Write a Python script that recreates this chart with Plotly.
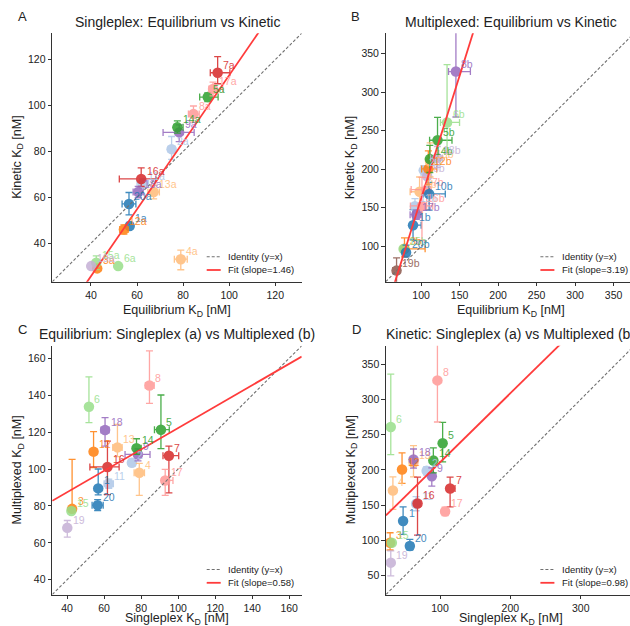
import numpy as np
import plotly.graph_objects as go

W, H = 630, 626
NaN = float("nan")

# ---------------- data ----------------
sample_ids = list(range(1, 21))

eq_single    = [56.8, 75.0, 42.7, 79.0, 90.7, 51.8, 95.0, 84.5, 78.3, NaN, 62.5, 54.3, 67.2, 77.5, 42.3, 61.8, 93.0, 60.5, 40.1, 56.5]
eq_single_lo = [1.2, 1.5, 0.8, 2.8, 3.5, 0.5, 3.2, 2.2, 7.0, NaN, 2.5, 1.8, 2.5, 1.5, 0.8, 9.5, 1.8, 2.2, 0.8, 3.0]
eq_single_hi = [1.2, 1.5, 0.8, 2.8, 4.5, 0.5, 5.3, 2.5, 6.5, NaN, 2.5, 1.8, 2.5, 2.5, 0.8, 6.3, 4.2, 2.2, 0.8, 3.0]

kin_single    = [47.5, 81.0, 29.0, 33.0, 103.7, 30.0, 114.3, 96.3, 88.3, NaN, 66.0, 46.0, 62.3, 90.5, 31.5, 68.0, 107.2, 62.3, 30.0, 57.1]
kin_single_lo = [1.5, 4.5, 1.0, 4.6, 2.0, 0.5, 4.8, 3.5, 4.0, NaN, 2.0, 2.0, 3.0, 2.5, 3.0, 3.3, 3.0, 2.5, 1.0, 4.8]
kin_single_hi = [1.5, 5.5, 1.0, 4.0, 1.8, 0.5, 7.0, 3.5, 3.3, NaN, 2.0, 2.0, 3.0, 2.8, 3.0, 4.8, 3.0, 2.5, 1.0, 5.0]

eq_multi    = [89.5, 103.4, 78.4, 98.0, 121.3, 133.7, 107.2, 145.2, 107.9, 110.4, 92.0, 109.4, 111.7, 111.3, 77.2, 101.1, 93.8, 121.1, 68.1, 80.4]
eq_multi_lo = [3.5, 2.0, 1.5, 12.3, 10.3, 8.6, 20.1, 9.6, 3.5, 7.4, 2.5, 8.7, 5.0, 3.3, 1.5, 15.0, 8.1, 8.7, 5.0, 3.0]
eq_multi_hi = [10.5, 2.0, 26.8, 5.0, 18.8, 16.2, 5.2, 18.8, 3.0, 21.0, 2.5, 10.8, 12.5, 5.1, 1.5, 14.0, 6.0, 6.7, 4.0, 3.0]

kin_multi    = [127.4, 198.6, 96.7, 170.8, 237.7, 260.8, 173.6, 326.9, 191.0, 168.0, 152.0, 200.5, 210.0, 213.2, 96.5, 152.4, 141.0, 214.6, 68.4, 92.0]
kin_multi_lo = [19.0, 6.0, 10.4, 26.9, 26.4, 39.1, 26.0, 59.0, 14.1, 21.0, 10.0, 19.8, 20.0, 17.4, 3.0, 44.9, 6.0, 12.0, 18.9, 5.7]
kin_multi_hi = [20.2, 6.0, 14.1, 19.2, 29.8, 75.0, 16.0, 61.0, 11.8, 15.0, 10.0, 23.5, 24.4, 17.9, 3.0, 37.2, 6.0, 15.0, 16.6, 9.4]

fit_slopes     = [1.46, 3.19, 0.58, 0.98]
fit_intercepts = [-32.8, -157.0, 64.2, 112.7]

# ---------------- styles ----------------
TAB = dict(blue="#1f77b4", lblue="#aec7e8", orange="#ff7f0e", lorange="#ffbb78",
           green="#2ca02c", lgreen="#98df8a", red="#d62728", lred="#ff9896",
           purple="#9467bd", lpurple="#c5b0d5", brown="#8c564b")
colors_acd = ["blue", "lblue", "orange", "lorange", "green", "lgreen", "red", "lred", "purple", "lpurple",
              "lblue", "orange", "lorange", "green", "lgreen", "red", "lred", "purple", "lpurple", "blue"]
colors_b = ["blue", "lblue", "orange", "lorange", "green", "lgreen", "lred", "purple", "lpurple", "blue",
            "lblue", "orange", "lorange", "green", "lgreen", "lred", "purple", "lpurple", "brown", "blue"]

FONT = "Liberation Sans, Arial, Helvetica, sans-serif"
INK = "#222222"

KD = "K<sub>D</sub> [nM]"
panels = [
    dict(letter="A", title="Singleplex: Equilibrium vs Kinetic",
         x=eq_single, xlo=eq_single_lo, xhi=eq_single_hi,
         y=kin_single, ylo=kin_single_lo, yhi=kin_single_hi,
         suffix="a", colors=colors_acd,
         xtitle="Equilibrium " + KD, ytitle="Kinetic " + KD,
         box=(52.3, 33.3, 301.7, 281.7), right=301.7, xtitle_off=29,
         xrange=[23.2, 131.5], yrange=[23.2, 131.5],
         xticks=[40, 60, 80, 100, 120], yticks=[40, 60, 80, 100, 120]),
    dict(letter="B", title="Multiplexed: Equilibrium vs Kinetic",
         x=eq_multi, xlo=eq_multi_lo, xhi=eq_multi_hi,
         y=kin_multi, ylo=kin_multi_lo, yhi=kin_multi_hi,
         suffix="b", colors=colors_b,
         xtitle="Equilibrium " + KD, ytitle="Kinetic " + KD,
         box=(385.7, 33.3, 630.0, 281.7), right=635.4, xtitle_off=29,
         xrange=[54.0, 371.3], yrange=[54.0, 376.6],
         xticks=[100, 150, 200, 250, 300, 350], yticks=[100, 150, 200, 250, 300, 350]),
    dict(letter="C", title="Equilibrium: Singleplex (a) vs Multiplexed (b)",
         x=eq_single, xlo=eq_single_lo, xhi=eq_single_hi,
         y=eq_multi, ylo=eq_multi_lo, yhi=eq_multi_hi,
         suffix="", colors=colors_acd,
         xtitle="Singleplex " + KD, ytitle="Multiplexed " + KD,
         box=(52.3, 345.8, 301.7, 594.5), right=301.7, xtitle_off=24,
         xrange=[32.0, 166.75], yrange=[32.0, 166.75],
         xticks=[40, 60, 80, 100, 120, 140, 160], yticks=[40, 60, 80, 100, 120, 140, 160]),
    dict(letter="D", title="Kinetic: Singleplex (a) vs Multiplexed (b)",
         x=kin_single, xlo=kin_single_lo, xhi=kin_single_hi,
         y=kin_multi, ylo=kin_multi_lo, yhi=kin_multi_hi,
         suffix="", colors=colors_acd,
         xtitle="Singleplex " + KD, ytitle="Multiplexed " + KD,
         box=(386.0, 345.8, 630.0, 594.5), right=635.4, xtitle_off=24,
         xrange=[23.2, 370.0], yrange=[23.2, 376.0],
         xticks=[100, 200, 300], yticks=[50, 100, 150, 200, 250, 300, 350]),
]


def fx(px):
    return px / W


def fy(py):
    return 1 - py / H


fig = go.Figure()
annotations = []
shapes = []
layout_axes = {}

for k, p in enumerate(panels):
    sfx = "" if k == 0 else str(k + 1)
    xa, ya = "x" + sfx, "y" + sfx
    l, t, r, b = p["box"]
    R = p["right"]

    # points with error bars
    for i, sid in enumerate(sample_ids):
        xv, yv = p["x"][i], p["y"][i]
        if np.isnan(xv) or np.isnan(yv):
            continue
        col = TAB[p["colors"][i]]
        fig.add_trace(go.Scatter(
            x=[xv], y=[yv], xaxis=xa, yaxis=ya, mode="markers",
            marker=dict(size=10.5, color=col, line=dict(width=0)),
            opacity=0.85,
            error_x=dict(type="data", symmetric=False, array=[p["xhi"][i]], arrayminus=[p["xlo"][i]],
                         color=col, thickness=1.3, width=3.5),
            error_y=dict(type="data", symmetric=False, array=[p["yhi"][i]], arrayminus=[p["ylo"][i]],
                         color=col, thickness=1.3, width=3.5),
            showlegend=False, hoverinfo="skip"))
        annotations.append(dict(
            x=xv, y=yv, xref=xa, yref=ya, text=f"{sid}{p['suffix']}", showarrow=False,
            xanchor="left", yanchor="bottom", xshift=3.5, yshift=0,
            font=dict(family=FONT, size=10.5, color=col), opacity=0.85))

    # identity and fit lines
    lo = min(p["xrange"][0], p["yrange"][0])
    hi = max(p["xrange"][1], p["yrange"][1])
    fig.add_trace(go.Scatter(x=[lo, hi], y=[lo, hi], xaxis=xa, yaxis=ya, mode="lines",
                             line=dict(color="#707070", width=1.1, dash="3px,2px"),
                             showlegend=False, hoverinfo="skip"))
    xs = np.array(p["xrange"])
    fig.add_trace(go.Scatter(x=xs, y=fit_slopes[k] * xs + fit_intercepts[k], xaxis=xa, yaxis=ya,
                             mode="lines", line=dict(color="#ff3b3b", width=1.8),
                             showlegend=False, hoverinfo="skip"))

    axis_common = dict(ticks="outside", ticklen=3.5, tickwidth=1, tickcolor="#333333",
                       showline=True, linecolor="#333333", linewidth=1.3,
                       showgrid=False, zeroline=False,
                       tickfont=dict(family=FONT, size=10.5, color=INK))
    layout_axes["xaxis" + sfx] = dict(domain=[fx(l), fx(r)], range=p["xrange"], anchor=ya,
                                      tickvals=p["xticks"], **axis_common)
    layout_axes["yaxis" + sfx] = dict(domain=[fy(b), fy(t)], range=p["yrange"], anchor=xa,
                                      tickvals=p["yticks"], **axis_common)

    # title, panel letter, axis titles
    cx = (l + R) / 2
    annotations.append(dict(x=fx(cx), y=fy(t - 1.5), xref="paper", yref="paper", text=p["title"],
                            showarrow=False, xanchor="center", yanchor="bottom",
                            font=dict(family=FONT, size=14, color=INK)))
    annotations.append(dict(x=fx(l - 36.5), y=fy(t - 16.5), xref="paper", yref="paper", text=p["letter"],
                            showarrow=False, xanchor="left", yanchor="middle",
                            font=dict(family=FONT, size=13, color=INK)))
    annotations.append(dict(x=fx(cx), y=fy(b + p["xtitle_off"]), xref="paper", yref="paper", text=p["xtitle"],
                            showarrow=False, xanchor="center", yanchor="middle",
                            font=dict(family=FONT, size=12.5, color=INK)))
    annotations.append(dict(x=fx(l - 34), y=fy((t + b) / 2), xref="paper", yref="paper", text=p["ytitle"],
                            showarrow=False, xanchor="center", yanchor="middle", textangle=-90,
                            font=dict(family=FONT, size=12.5, color=INK)))

    # legend (drawn by hand, bottom-right inside the axes)
    rows = [("Identity (y=x)", dict(color="#707070", width=1.1, dash="3px,2px"), b - 25),
            (f"Fit (slope={fit_slopes[k]:.2f})", dict(color="#ff3b3b", width=1.8), b - 11.7)]
    for label, ln, yy in rows:
        shapes.append(dict(type="line", xref="paper", yref="paper",
                           x0=fx(R - 95), x1=fx(R - 81), y0=fy(yy), y1=fy(yy), line=ln))
        annotations.append(dict(x=fx(R - 75.5), y=fy(yy), xref="paper", yref="paper", text=label,
                                showarrow=False, xanchor="left", yanchor="middle",
                                font=dict(family=FONT, size=9.5, color=INK)))

fig.update_layout(
    width=W, height=H, margin=dict(l=0, r=0, t=0, b=0),
    paper_bgcolor="white", plot_bgcolor="white",
    showlegend=False, annotations=annotations, shapes=shapes,
    font=dict(family=FONT, color=INK),
    **layout_axes)

fig.write_html("out.html")
